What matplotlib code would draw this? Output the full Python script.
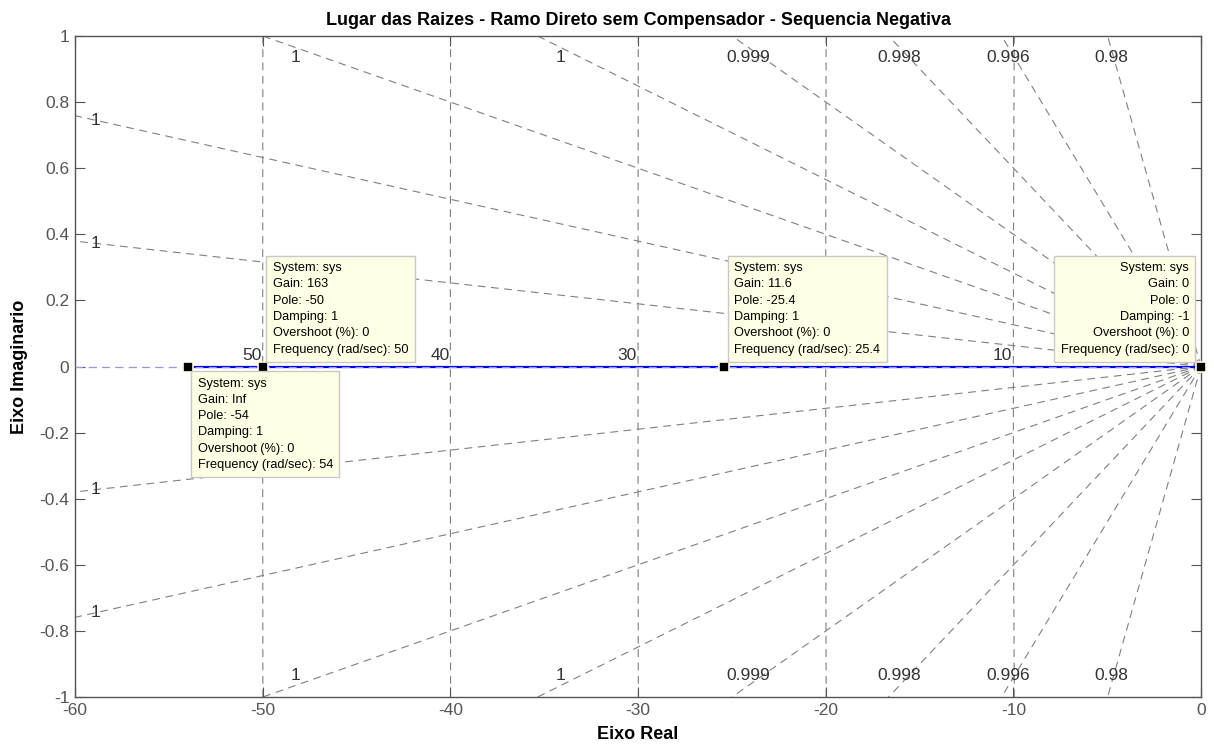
import numpy as np
import matplotlib
matplotlib.use("Agg")
import matplotlib.pyplot as plt

plt.rcParams['font.family'] = ['Liberation Sans', 'DejaVu Sans']

# Root locus branch: open-loop pole at 0, branch ends at -54 on the real axis
locus_start = 0.0
locus_end = -54.0

# Damping ratios of the s-grid rays and their printed labels
damping = [0.99998, 0.99992, 0.9998, 0.9996, 0.9992, 0.9982, 0.9956, 0.9804]
# Natural frequencies of the s-grid circles (rad/s)
wn_grid = [10, 20, 30, 40, 50]

# Data tips: (pole, gain, damping, overshoot, frequency)
tips_pole = [-50, -54, -25.4, 0]
tips_gain = ["163", "Inf", "11.6", "0"]
tips_damp = ["1", "1", "1", "-1"]
tips_os = ["0", "0", "0", "0"]
tips_freq = ["50", "54", "25.4", "0"]

xticks = [-60, -50, -40, -30, -20, -10, 0]
yticks = [-1, -0.8, -0.6, -0.4, -0.2, 0, 0.2, 0.4, 0.6, 0.8, 1]

fig = plt.figure(figsize=(12.14, 7.46), dpi=100)
ax = fig.add_axes([0.0618, 0.0657, 0.9275, 0.886])
ax.set_xlim(-60, 0)
ax.set_ylim(-1, 1)

grid_kw = dict(color='#808080', lw=0.8, ls=(0, (7, 5)), zorder=1)
lab_color = '#333333'
lab_size = 12.5

# damping rays
for z in damping:
    s = np.sqrt(1 - z ** 2) / z
    xs = np.array([0, -200])
    ax.plot(xs, s * xs, **grid_kw)
    ax.plot(xs, -s * xs, **grid_kw)
    lbl = '%.3g' % z
    if 60 * s < 1:
        xl = -58.9
        for sign in (1, -1):
            ax.text(xl, sign * (-xl) * s, lbl, ha='center', va='center',
                    fontsize=lab_size, color=lab_color, zorder=2)
    else:
        xl = -0.965 / s
        for sign in (1, -1):
            ax.text(xl, sign * 0.935, lbl, ha='center', va='center',
                    fontsize=lab_size, color=lab_color, zorder=2)

# real axis (zeta = 1)
ax.plot([-60, 0], [0, 0], **grid_kw)

# natural frequency circles
yy = np.linspace(-1, 1, 200)
for wn in wn_grid:
    ax.plot(-np.sqrt(wn ** 2 - yy ** 2), yy, **grid_kw)
    ax.text(-wn - 0.05, 0.012, str(wn), ha='right', va='bottom',
            fontsize=lab_size, color=lab_color, zorder=2)

# locus branch
ax.plot([locus_end, locus_start], [0, 0], color='#0000FF', lw=1.6, zorder=3)
ax.plot([-60, 0], [0, 0], color='#9a9ad8', lw=0.8, ls=(0, (7, 5)), zorder=3.5)

# data tips
offsets = [(10, 11, 'left', 'bottom'), (10, -11, 'left', 'top'),
           (10, 11, 'left', 'bottom'), (-12, 11, 'right', 'bottom')]
for p, g, d, o, f, (dx, dy, ha, va) in zip(tips_pole, tips_gain, tips_damp,
                                             tips_os, tips_freq, offsets):
    ax.plot([p], [0], marker='s', ms=6.5, mfc='black', mec='#FFFFE1',
            mew=1.2, zorder=6, clip_on=False)
    txt = "System: sys\nGain: %s\nPole: %s\nDamping: %s\nOvershoot (%%): %s\nFrequency (rad/sec): %s" % (
        g, ('%g' % p), d, o, f)
    ax.annotate(txt, xy=(p, 0), xytext=(dx, dy), textcoords='offset pixels',
                ha=ha, va=va, multialignment=ha, fontsize=9.2, color='black',
                linespacing=1.48, zorder=7,
                bbox=dict(boxstyle='square,pad=0.5', fc='#FFFFE5', ec='#C8C8C8', lw=1))

ax.set_xticks(xticks)
ax.set_xticklabels(['%g' % t for t in xticks])
ax.set_yticks(yticks)
ax.set_yticklabels(['%g' % t for t in yticks])
ax.tick_params(direction='in', length=7, width=0.8, colors='#555555',
               labelsize=12.5, top=True, right=True, pad=4)
for sp in ax.spines.values():
    sp.set_color('#555555')
    sp.set_linewidth(1.0)

ax.set_title('Lugar das Raizes - Ramo Direto sem Compensador - Sequencia Negativa',
             fontsize=13, fontweight='bold', pad=8)
ax.set_xlabel('Eixo Real', fontsize=13, fontweight='bold', labelpad=6)
ax.set_ylabel('Eixo Imaginario', fontsize=13, fontweight='bold', labelpad=8)

fig.savefig('out.png', dpi=100)
